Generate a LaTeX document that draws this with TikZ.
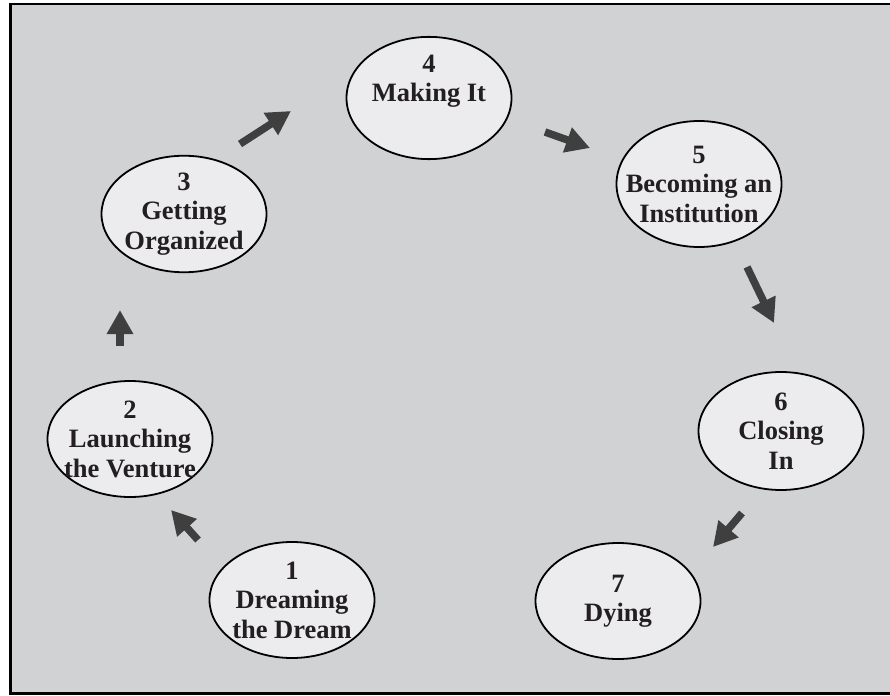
\documentclass[tikz,border=0pt]{standalone}
\usepackage{fontspec}
\setmainfont{Liberation Serif}
\usetikzlibrary{positioning,shapes.geometric,arrows.meta}
\definecolor{panel}{HTML}{D1D2D4}
\definecolor{bubble}{HTML}{ECECEE}
\definecolor{pointer}{HTML}{3F3F3F}
\definecolor{ink}{HTML}{231F20}

\begin{document}
\begin{tikzpicture}[
        on grid,
        stage/.style={
          ellipse,draw,line width=1.8pt,fill=bubble,text=ink,
          inner xsep=-25pt,inner ysep=0pt,
          minimum width=165pt,minimum height=116pt,align=center,
          font=\fontsize{26.5}{29.5}\selectfont\bfseries},
        every edge/.append style={draw=pointer,line width=7.5pt,
          -{Triangle[length=24pt,width=25pt]}}]
      \useasboundingbox (0,0) rectangle (890pt,-695pt);
      \clip (0,0) rectangle (890pt,-695pt);
      \fill[white] (0,0) rectangle (890pt,-695pt);
      \fill[panel] (10.5pt,-4pt) rectangle (890pt,-693.5pt);
      \draw[line width=2.6pt] (890pt,-4pt) -- (10.5pt,-4pt) -- (10.5pt,-693.5pt) -- (890pt,-693.5pt);
      \node[stage] (dream) at (292pt,-600pt) {1\\Dreaming\\the Dream};
      \node[stage, above left=161pt and 162pt of dream] (launch) {2\\Launching\\the Venture};
      \node[stage, above right=225pt and 54pt of launch] (organize) {3\\Getting\\Organized};
      \node[stage, minimum height=119pt, above right=116pt and 245pt of organize] (making) {4\\Making It\\[10pt]\mbox{}};
      \node[stage, minimum height=126pt, below right=86pt and 270pt of making] (institution) {5\\Becoming an\\Institution};
      \node[stage, minimum height=118pt, below right=247pt and 82pt of institution] (closing) {6\\Closing\\In};
      \node[stage, below left=170pt and 163pt of closing] (dying) {7\\Dying};
      \path ([shift={(-94pt,60pt)}]dream.center) edge ([shift={(41pt,-71pt)}]launch.center);
      \path ([shift={(-10pt,93pt)}]launch.center) edge ([shift={(-64pt,-96pt)}]organize.center);
      \path ([shift={(56pt,70pt)}]organize.center) edge ([shift={(-138pt,-13pt)}]making.center);
      \path ([shift={(116pt,-34pt)}]making.center) edge ([shift={(-109pt,36pt)}]institution.center);
      \path ([shift={(48pt,-83pt)}]institution.center) edge ([shift={(-7pt,108pt)}]closing.center);
      \path ([shift={(-39pt,-82pt)}]closing.center) edge ([shift={(95pt,54pt)}]dying.center);
    \end{tikzpicture}
\end{document}
